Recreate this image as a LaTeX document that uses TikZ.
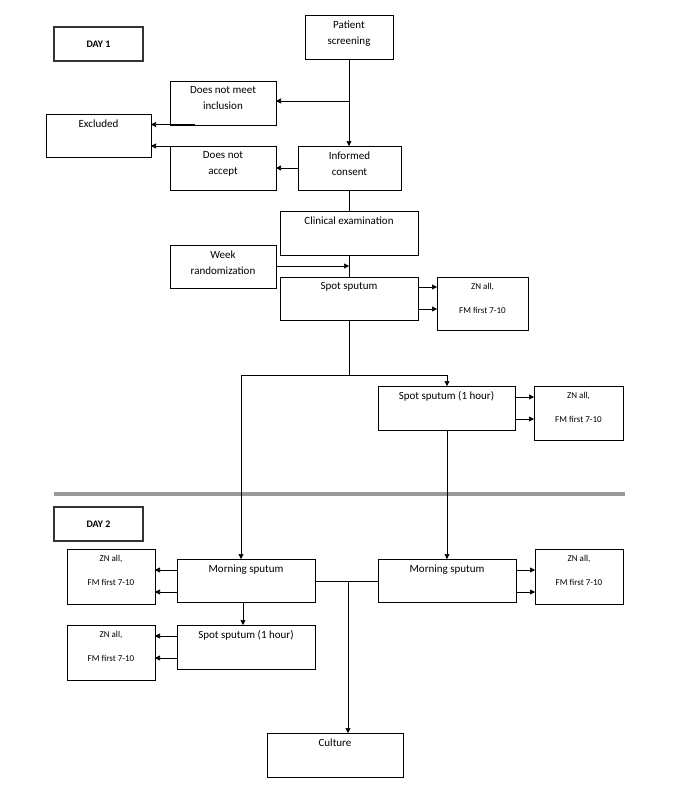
\documentclass[tikz,border=0pt]{standalone}
\usepackage{fontspec}
\setmainfont{Carlito}
\usetikzlibrary{arrows.meta}
\begin{document}
\begin{tikzpicture}[x=1pt,y=-1pt,
 bx/.style={draw,line width=0.6pt},
 tx/.style={font=\fontsize{11}{16}\selectfont,align=center,anchor=north},
 sx/.style={font=\fontsize{9}{24}\selectfont,align=center,anchor=north},
 ar/.style={-{Triangle[length=5pt,width=5pt]},line width=0.6pt},
 ln/.style={line width=0.6pt}]
\useasboundingbox (0,0) rectangle (680,800);
% boxes
\draw[line width=2pt,draw=black!80] (54,27) rectangle (143,61);
\node[font=\bfseries\fontsize{10}{12}\selectfont] (d1) at (98.5,44) {DAY 1};
\draw[line width=2pt,draw=black!80] (54,507) rectangle (143,541);
\node[font=\bfseries\fontsize{10}{12}\selectfont] (d2) at (98.5,524) {DAY 2};
\draw[line width=4pt,draw=black!40] (54,494) -- (625,494);

\draw[bx] (305,15) rectangle (393,59); \node[tx] (ps) at (349,17) {Patient\\screening};
\draw[bx] (170,81) rectangle (276,125); \node[tx] (dnm) at (223,83) {Does not meet\\inclusion};
\draw[bx] (46,114) rectangle (151,157); \node[tx] (exc) at (98.5,116) {Excluded};
\draw[bx] (170,146) rectangle (276,190); \node[tx] (dna) at (223,148) {Does not\\accept};
\draw[bx] (298,146) rectangle (401,190); \node[tx] (ic) at (349.5,148) {Informed\\consent};
\draw[bx] (280,211) rectangle (418,255); \node[tx] (ce) at (349,213) {Clinical examination};
\draw[bx] (170,245) rectangle (276,288); \node[tx] (wr) at (223,247) {Week\\randomization};
\draw[bx] (280,277) rectangle (418,320); \node[tx] (ss) at (349,279) {Spot sputum};
\draw[bx] (437,277) rectangle (528,330); \node[sx] (z1) at (482.5,280) {ZN all,\\FM first 7-10};
\draw[bx] (378,386) rectangle (515,430); \node[tx] (sh) at (446.5,388) {Spot sputum (1 hour)};
\draw[bx] (534,386) rectangle (623,440); \node[sx] (z2) at (578.5,389) {ZN all,\\FM first 7-10};
\draw[bx] (67,549) rectangle (155,604); \node[sx] (z3) at (111,552) {ZN all,\\FM first 7-10};
\draw[bx] (177,559) rectangle (315,602); \node[tx] (ml) at (246,561) {Morning sputum};
\draw[bx] (378,559) rectangle (516,602); \node[tx] (mr) at (447,561) {Morning sputum};
\draw[bx] (535,549) rectangle (623,604); \node[sx] (z4) at (579,552) {ZN all,\\FM first 7-10};
\draw[bx] (67,625) rectangle (155,680); \node[sx] (z5) at (111,628) {ZN all,\\FM first 7-10};
\draw[bx] (177,625) rectangle (315,669); \node[tx] (sl) at (246,627) {Spot sputum (1 hour)};
\draw[bx] (267,733) rectangle (403,777); \node[tx] (cu) at (335,735) {Culture};

% connectors
\draw[ar] (349,59) -- (349,146);
\draw[ar] (349,101) -- (276,101);
\draw[ar] (298,168) -- (276,168);
\draw[ar] (195,124.5) -- (151,124.5);
\draw[ar] (195,146) -- (151,146);
\draw[ln] (349,190) -- (349,211);
\draw[ln] (349,255) -- (349,277);
\draw[ar] (276,266) -- (349,266);
\draw[ar] (418,287) -- (437,287);
\draw[ar] (418,309) -- (437,309);
\draw[ln] (349,320) -- (349,375);
\draw[ar] (241,375) -- (447,375) -- (447,386);
\draw[ar] (241,375) -- (241,559);
\draw[ar] (515,397) -- (534,397);
\draw[ar] (515,419) -- (534,419);
\draw[ar] (447,430) -- (447,559);
\draw[ar] (177,570) -- (155,570);
\draw[ar] (177,592) -- (155,592);
\draw[ar] (243,602) -- (243,625);
\draw[ar] (177,636) -- (155,636);
\draw[ar] (177,658) -- (155,658);
\draw[ar] (516,570) -- (535,570);
\draw[ar] (516,592) -- (535,592);
\draw[ln] (315,581) -- (378,581);
\draw[ar] (348,581) -- (348,733);
\end{tikzpicture}
\end{document}
